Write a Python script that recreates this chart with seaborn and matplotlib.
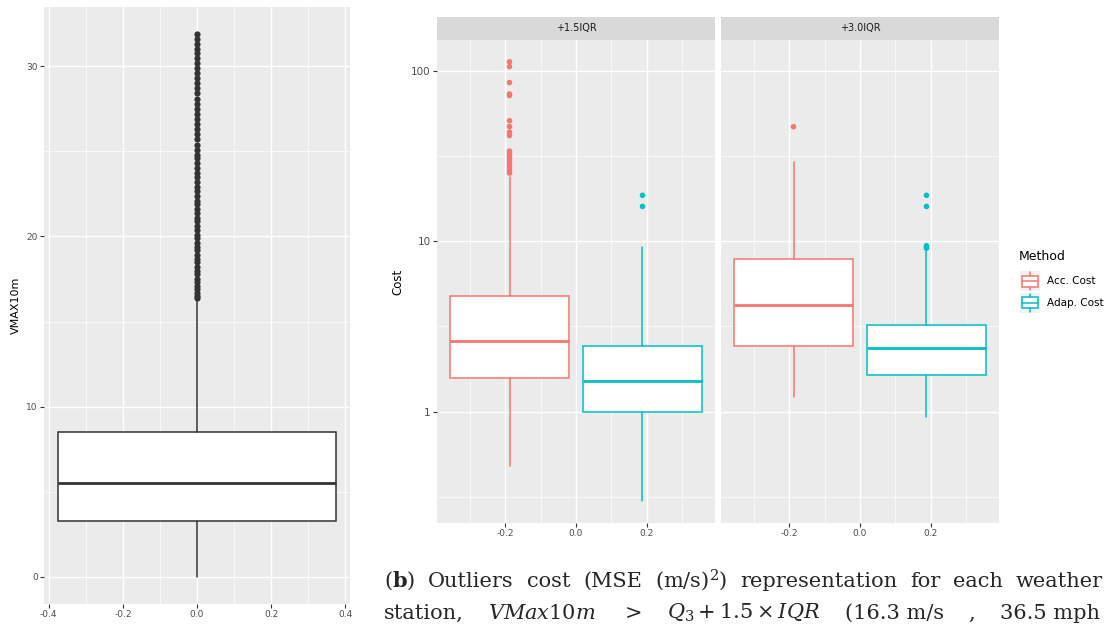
import numpy as np
import pandas as pd
import matplotlib
matplotlib.use("Agg")
import matplotlib.pyplot as plt
from matplotlib.patches import Rectangle
from matplotlib.ticker import FixedLocator, NullFormatter
import seaborn as sns

# ---------------- data ----------------
# left panel: VMAX10m boxplot summary
vmax_q1, vmax_med, vmax_q3 = 3.29, 5.49, 8.50
vmax_whislo, vmax_whishi = 0.0, 16.33
vmax_outliers = [16.4, 16.5, 16.7, 16.9, 17.1, 17.3, 17.5, 17.8, 18.0, 18.2, 18.5, 18.7,
                 18.9, 19.2, 19.4, 19.6, 19.9, 20.1, 20.4, 20.6, 20.9, 21.1, 21.4, 21.6,
                 21.9, 22.1, 22.4, 22.7, 22.9, 23.2, 23.5, 23.7, 24.0, 24.3, 24.6, 24.8,
                 25.1, 25.4, 25.7, 26.0, 26.3, 26.6, 26.9, 27.2, 27.5, 27.8, 28.1, 28.4,
                 28.7, 29.0, 29.3, 29.6, 29.9, 30.2, 30.5, 30.8, 31.0, 31.3, 31.6, 31.9]

# right panel: cost boxplots per facet and method
facets = ["+1.5IQR", "+3.0IQR"]
methods = ["Acc. Cost", "Adap. Cost"]
method_colors = ["#F8766D", "#00BFC4"]
cost_q1 = [[1.58, 1.00], [2.42, 1.63]]
cost_med = [[2.58, 1.51], [4.21, 2.35]]
cost_q3 = [[4.75, 2.43], [7.81, 3.23]]
cost_whislo = [[0.48, 0.30], [1.22, 0.93]]
cost_whishi = [[23.8, 9.2], [29.0, 8.9]]
acc_15_outliers = [113, 106, 85.4, 73.2, 71.6, 51.0, 47.1, 43.7, 41.7,
                   33.8, 32.6, 31.4, 30.3, 29.1, 28.1, 27.1, 26.1, 25.1]
adap_15_outliers = [18.6, 16.0]
acc_30_outliers = [47.0]
adap_30_outliers = [18.6, 16.0, 9.4, 9.2, 9.1]
cost_outliers = [[acc_15_outliers, adap_15_outliers], [acc_30_outliers, adap_30_outliers]]
group_offsets = [-0.1875, 0.1875]

caption_line1 = [r"($\mathbf{b}$)", "Outliers", "cost", "(MSE", r"(m/s)$^2$)",
                 "representation", "for", "each", "weather"]
caption_line2 = ["station,", r"$VMax10m$", r"$>$", r"$Q_3 + 1.5\times IQR$",
                 "(16.3 m/s", ",", "36.5 mph"]

# ---------------- style ----------------
sns.set_theme(style="darkgrid", rc={
    "axes.facecolor": "#EBEBEB",
    "grid.color": "white",
    "axes.edgecolor": "none",
    "xtick.color": "#333333",
    "ytick.color": "#333333",
    "xtick.labelcolor": "#4D4D4D",
    "ytick.labelcolor": "#4D4D4D",
    "xtick.bottom": True,
    "ytick.left": True,
    "xtick.major.size": 3,
    "ytick.major.size": 3,
    "xtick.major.width": 0.8,
    "ytick.major.width": 0.8,
    "xtick.major.pad": 1.5,
    "ytick.major.pad": 1.5,
})
plt.rcParams["font.family"] = ["DejaVu Sans"]
plt.rcParams["mathtext.fontset"] = "dejavuserif"

W, H = 1105, 625
fig = plt.figure(figsize=(W / 100, H / 100), dpi=100)
fig.patch.set_facecolor("white")


def box_axes(x0, y0, x1, y1):
    return fig.add_axes([x0 / W, 1 - y1 / H, (x1 - x0) / W, (y1 - y0) / H])


def style_grid(ax):
    ax.grid(True, which="major", color="white", linewidth=1.0)
    ax.grid(True, which="minor", color="white", linewidth=0.5)
    ax.set_axisbelow(True)
    for s in ax.spines.values():
        s.set_visible(False)
    ax.tick_params(which="minor", length=0)


edge = "#333333"

# ---------------- left panel ----------------
ax0 = box_axes(44, 7, 350, 604)
stats0 = [dict(med=vmax_med, q1=vmax_q1, q3=vmax_q3, whislo=vmax_whislo,
               whishi=vmax_whishi, fliers=[])]
ax0.bxp(stats0, positions=[0], widths=[0.75], patch_artist=True, showcaps=False,
        showfliers=False,
        boxprops=dict(facecolor="white", edgecolor=edge, linewidth=1.1),
        medianprops=dict(color=edge, linewidth=2.0),
        whiskerprops=dict(color=edge, linewidth=1.1))
out_df = pd.DataFrame({"x": [0.0] * len(vmax_outliers), "VMAX10m": vmax_outliers})
sns.scatterplot(data=out_df, x="x", y="VMAX10m", ax=ax0, color=edge, s=20,
                linewidth=0, legend=False, zorder=3)
ax0.set_xlim(-0.4125, 0.4125)
ax0.set_ylim(-1.59, 33.48)
ax0.set_xticks([-0.4, -0.2, 0.0, 0.2, 0.4])
ax0.set_xticklabels(["-0.4", "-0.2", "0.0", "0.2", "0.4"], fontsize=6.5)
ax0.set_yticks([0, 10, 20, 30])
ax0.set_yticklabels(["0", "10", "20", "30"], fontsize=6.5)
ax0.xaxis.set_minor_locator(FixedLocator([-0.3, -0.1, 0.1, 0.3]))
ax0.yaxis.set_minor_locator(FixedLocator([5, 15, 25]))
style_grid(ax0)
ax0.set_xlabel("")
ax0.set_ylabel("VMAX10m", fontsize=8, color="black", labelpad=4)

# ---------------- right panels ----------------
facet_boxes = [(437, 715), (721, 999)]
for fi, (xa, xb) in enumerate(facet_boxes):
    ax = box_axes(xa, 40, xb, 523)
    for mi in range(len(methods)):
        st = dict(med=cost_med[fi][mi], q1=cost_q1[fi][mi], q3=cost_q3[fi][mi],
                  whislo=cost_whislo[fi][mi], whishi=cost_whishi[fi][mi], fliers=[])
        c = method_colors[mi]
        ax.bxp([st], positions=[group_offsets[mi]], widths=[0.3375], patch_artist=True,
               showcaps=False, showfliers=False,
               boxprops=dict(facecolor="white", edgecolor=c, linewidth=1.1),
               medianprops=dict(color=c, linewidth=2.0),
               whiskerprops=dict(color=c, linewidth=1.1))
    rows = []
    for mi in range(len(methods)):
        for v in cost_outliers[fi][mi]:
            rows.append({"x": group_offsets[mi], "Cost": v, "Method": methods[mi]})
    odf = pd.DataFrame(rows)
    sns.scatterplot(data=odf, x="x", y="Cost", hue="Method", hue_order=methods,
                    palette=method_colors, ax=ax, s=16, linewidth=0, legend=False, zorder=3)
    ax.set_yscale("log")
    ax.set_xlim(-0.392, 0.392)
    ax.set_ylim(0.2215, 151.8)
    ax.set_xticks([-0.2, 0.0, 0.2])
    ax.set_xticklabels(["-0.2", "0.0", "0.2"], fontsize=6.5)
    ax.yaxis.set_major_locator(FixedLocator([1, 10, 100]))
    ax.yaxis.set_minor_locator(FixedLocator([0.316, 3.16, 31.6]))
    ax.yaxis.set_minor_formatter(NullFormatter())
    ax.xaxis.set_minor_locator(FixedLocator([-0.3, -0.1, 0.1, 0.3]))
    style_grid(ax)
    ax.set_xlabel("")
    if fi == 0:
        ax.set_yticklabels(["1", "10", "100"], fontsize=7.5)
        ax.set_ylabel("Cost", fontsize=8.5, color="black", labelpad=5)
    else:
        ax.set_yticklabels([])
        ax.tick_params(axis="y", which="both", length=0)
        ax.set_ylabel("")
    # strip
    sax = box_axes(xa, 16.5, xb, 40)
    sax.set_facecolor("#D9D9D9")
    sax.set_xticks([])
    sax.set_yticks([])
    sax.grid(False)
    for s in sax.spines.values():
        s.set_visible(False)
    sax.text(0.5, 0.5, facets[fi], ha="center", va="center", fontsize=7, color="#1A1A1A",
             transform=sax.transAxes)

# ---------------- legend ----------------
fig.text(1019 / W, 1 - 257 / H, "Method", fontsize=9, va="center", ha="left", color="black")
key_centers = [281.5, 302.5]
for mi, yc in enumerate(key_centers):
    kax = box_axes(1020, yc - 10, 1040, yc + 10)
    kax.set_xlim(0, 1)
    kax.set_ylim(0, 1)
    kax.set_facecolor("#F2F2F2")
    kax.set_xticks([])
    kax.set_yticks([])
    kax.grid(False)
    for s in kax.spines.values():
        s.set_visible(False)
    c = method_colors[mi]
    kax.add_patch(Rectangle((0.1, 0.22), 0.8, 0.56, facecolor="white", edgecolor=c, linewidth=1.1))
    kax.plot([0.1, 0.9], [0.5, 0.5], color=c, linewidth=1.1)
    kax.plot([0.5, 0.5], [0.78, 0.95], color=c, linewidth=1.1)
    kax.plot([0.5, 0.5], [0.05, 0.22], color=c, linewidth=1.1)
    fig.text(1047 / W, 1 - yc / H, methods[mi], fontsize=7.5, va="center", ha="left",
             color="black")

# ---------------- caption (justified lines) ----------------
cap_font = "DejaVu Serif"
cap_size = 15
renderer = fig.canvas.get_renderer()


def justified_line(pieces, baseline_px, x_start_px, x_end_px):
    texts = [fig.text(0, 1 - baseline_px / H, p, fontsize=cap_size, family=cap_font,
                      va="baseline", ha="left") for p in pieces]
    widths = [t.get_window_extent(renderer=renderer).width for t in texts]
    gap = (x_end_px - x_start_px - sum(widths)) / (len(pieces) - 1)
    x = x_start_px
    for t, w in zip(texts, widths):
        t.set_x(x / W)
        x += w + gap


justified_line(caption_line1, 587, 384, 1103)
justified_line(caption_line2, 619, 384, 1100)

fig.savefig("out.png", dpi=100)
